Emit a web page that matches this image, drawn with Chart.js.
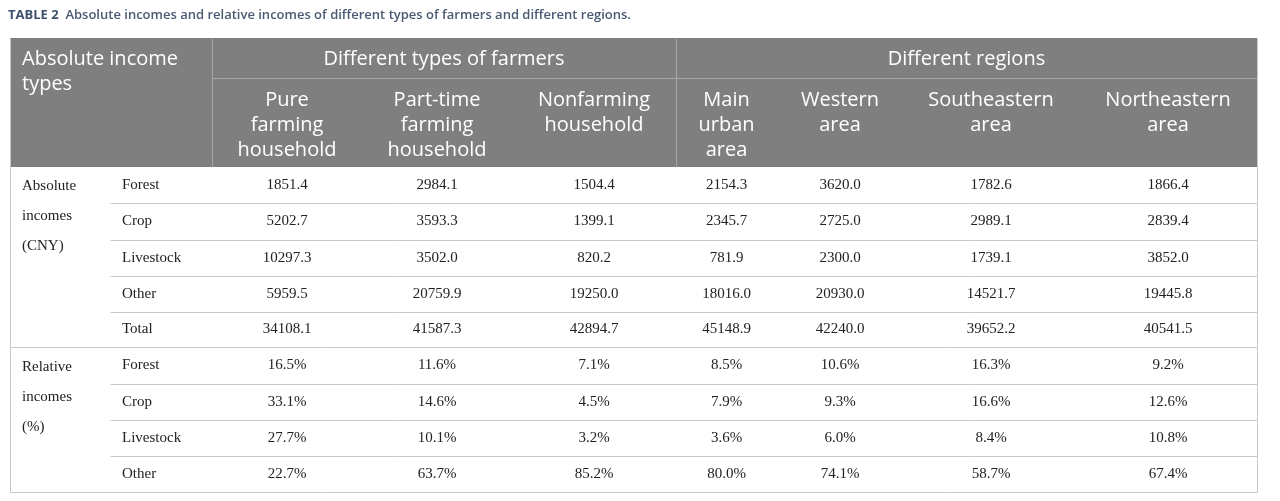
<!DOCTYPE html>
<html><head><meta charset="utf-8">
<script src="https://cdn.jsdelivr.net/npm/chart.js@4"></script>
<style>html,body{margin:0;padding:0;background:#fff}#w{width:1280px;height:501px}</style>
</head><body><div id="w"><canvas id="c"></canvas></div>
<script>
const title = ["TABLE 2", "Absolute incomes and relative incomes of different types of farmers and different regions."];
const groupHeaders = ["Absolute income types", "Different types of farmers", "Different regions"];
const columnHeaders = [["Pure","farming","household"],["Part-time","farming","household"],["Nonfarming","household"],["Main","urban","area"],["Western","area"],["Southeastern","area"],["Northeastern","area"]];
const sections = [["Absolute","incomes","(CNY)"],["Relative","incomes","(%)"]];
const rowLabels = ["Forest","Crop","Livestock","Other","Total","Forest","Crop","Livestock","Other"];
const pureFarming = ["1851.4","5202.7","10297.3","5959.5","34108.1","16.5%","33.1%","27.7%","22.7%"];
const partTime = ["2984.1","3593.3","3502.0","20759.9","41587.3","11.6%","14.6%","10.1%","63.7%"];
const nonfarming = ["1504.4","1399.1","820.2","19250.0","42894.7","7.1%","4.5%","3.2%","85.2%"];
const mainUrban = ["2154.3","2345.7","781.9","18016.0","45148.9","8.5%","7.9%","3.6%","80.0%"];
const western = ["3620.0","2725.0","2300.0","20930.0","42240.0","10.6%","9.3%","6.0%","74.1%"];
const southeastern = ["1782.6","2989.1","1739.1","14521.7","39652.2","16.3%","16.6%","8.4%","58.7%"];
const northeastern = ["1866.4","2839.4","3852.0","19445.8","40541.5","9.2%","12.6%","10.8%","67.4%"];
const columns = [pureFarming, partTime, nonfarming, mainUrban, western, southeastern, northeastern];

// grid in scale units
const colEdges = [10,110,212,362,512,676,777,903,1079,1257];
const rowEdges = [38,78,167,203,240,276,312,347,384,420,456,492];

const tablePlugin = {
  id:'table',
  afterDraw(chart){
    const X=v=>chart.scales.x.getPixelForValue(v), Y=v=>chart.scales.y.getPixelForValue(v);
    const c=chart.ctx; c.save();
    // title
    c.textBaseline='middle'; c.textAlign='left';
    c.fillStyle='#3d4f6b'; c.font='bold 13px "Open Sans"';
    c.fillText(title[0], X(8), Y(15));
    const tw=c.measureText(title[0]+"  ").width;
    c.font='600 13px "Open Sans"'; c.fillStyle='#4a5a72';
    c.fillText(title[1], X(8)+tw, Y(15));
    // header bg
    c.fillStyle='#7f7f7f';
    c.fillRect(X(10),Y(38),X(1257)-X(10),Y(167)-Y(38));
    // header lines
    c.strokeStyle='#a8a8a8'; c.lineWidth=1;
    const L=(x1,y1,x2,y2)=>{c.beginPath();c.moveTo(Math.round(X(x1))+.5,Math.round(Y(y1))+.5);c.lineTo(Math.round(X(x2))+.5,Math.round(Y(y2))+.5);c.stroke();};
    L(212,78,1257,78);
    L(212,38,212,167); L(676,38,676,167);
    for(const e of [362,512,777,903,1079]) L(e,78,167);
    // body lines
    c.strokeStyle='#c8c8c8';
    for(let i=3;i<rowEdges.length;i++){ if(i===rowEdges.length-1||i===7) L(10,rowEdges[i],1257,rowEdges[i]); else L(110,rowEdges[i],1257,rowEdges[i]); }
    for(const e of colEdges) L(e,167,492);
    L(10,38,10,492); L(1257,38,1257,492);
    // header text
    c.fillStyle='#fff'; c.font='20px "Open Sans"';
    c.textAlign='left';
    c.fillText("Absolute income",X(22),Y(59)); c.fillText("types",X(22),Y(84));
    c.textAlign='center';
    c.fillText(groupHeaders[1],X((212+676)/2),Y(59));
    c.fillText(groupHeaders[2],X((676+1257)/2),Y(59));
    columnHeaders.forEach((h,i)=>{
      const cx=(colEdges[i+2]+colEdges[i+3])/2;
      h.forEach((t,j)=>c.fillText(t,X(cx),Y(100+j*25)));
    });
    // body
    c.fillStyle='#222'; c.font='15px "Liberation Serif"';
    c.textAlign='left';
    sections.forEach((s,k)=>{const y0=k===0?186:367; s.forEach((t,j)=>c.fillText(t,X(22),Y(y0+j*30)));});
    rowLabels.forEach((t,r)=>{
      const cy=(rowEdges[r+2]+rowEdges[r+3])/2;
      c.textAlign='left'; c.fillText(t,X(122),Y(cy));
      c.textAlign='center';
      columns.forEach((col,i)=>c.fillText(col[r],X((colEdges[i+2]+colEdges[i+3])/2),Y(cy)));
    });
    c.restore();
  }
};
new Chart(document.getElementById('c'),{
  type:'scatter',
  data:{datasets:[{data:[]}]},
  options:{responsive:true,maintainAspectRatio:false,animation:false,
    layout:{padding:0},
    plugins:{legend:{display:false},tooltip:{enabled:false}},
    scales:{x:{type:'linear',min:0,max:1280,display:false},y:{type:'linear',min:0,max:501,reverse:true,display:false}}},
  plugins:[tablePlugin]
});
</script></body></html>
